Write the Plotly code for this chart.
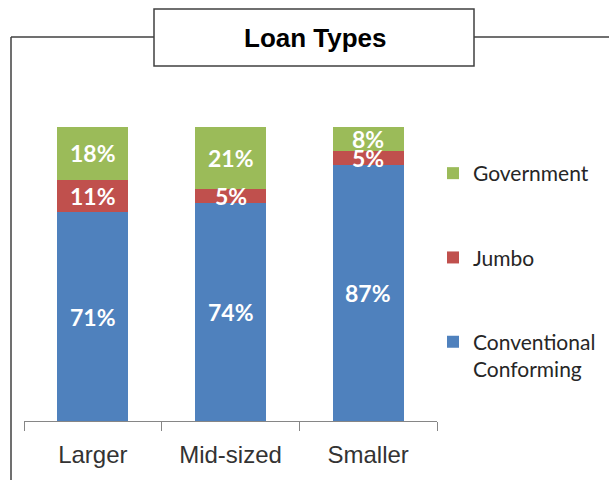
import plotly.graph_objects as go

# Share of loans by lender size (percent)
lender_sizes = ["Larger", "Mid-sized", "Smaller"]
conventional = [71, 74, 87]
jumbo = [11, 5, 5]
government = [18, 21, 8]

series_names = ["Conventional<br>Conforming", "Jumbo", "Government"]
series_colors = ["#4F81BD", "#C0504D", "#9BBB59"]
series_values = [conventional, jumbo, government]
legend_ranks = [3, 2, 1]

W, H = 609, 480
M_L, M_R, M_T, M_B = 24, 172, 127, 59
PW, PH = W - M_L - M_R, H - M_T - M_B


def px_x(px):
    return (px - M_L) / PW


def px_y(py):
    return (H - M_B - py) / PH


fig = go.Figure()
for i, (name, color, vals, rank) in enumerate(
        zip(series_names, series_colors, series_values, legend_ranks)):
    fig.add_trace(go.Bar(
        x=lender_sizes, y=vals, name=name,
        marker=dict(color=color, line=dict(width=0)),
        legendgroup=f"g{i}", legendrank=rank,
        hoverinfo="skip",
    ))

# Percent labels centred inside each stacked segment
annotations = []
for ci, cat in enumerate(lender_sizes):
    base = 0
    for vals in series_values:
        v = vals[ci]
        annotations.append(dict(
            x=cat, y=base + v / 2, xref="x", yref="y",
            text=f"{v}%", showarrow=False,
            font=dict(family="Lato", size=23, color="white", weight="bold"),
        ))
        base += v

# Chart title inside its frame box
annotations.append(dict(
    x=px_x(315), y=px_y(38), xref="paper", yref="paper",
    text="<b>Loan Types</b>", showarrow=False,
    xanchor="center", yanchor="middle",
    font=dict(family="Liberation Sans", size=26, color="black"),
))

frame = "#404040"
shapes = [
    dict(type="rect", xref="paper", yref="paper",
         x0=px_x(154), x1=px_x(474), y0=px_y(66), y1=px_y(9),
         line=dict(color=frame, width=1.5), fillcolor="white"),
    dict(type="line", xref="paper", yref="paper",
         x0=px_x(11), x1=px_x(154), y0=px_y(37), y1=px_y(37),
         line=dict(color=frame, width=1.5)),
    dict(type="line", xref="paper", yref="paper",
         x0=px_x(474), x1=px_x(612), y0=px_y(37), y1=px_y(37),
         line=dict(color=frame, width=1.5)),
    dict(type="line", xref="paper", yref="paper",
         x0=px_x(11), x1=px_x(11), y0=px_y(37), y1=px_y(482),
         line=dict(color=frame, width=1.5)),
]

fig.update_layout(
    width=W, height=H,
    margin=dict(l=M_L, r=M_R, t=M_T, b=M_B, pad=0, autoexpand=False),
    barmode="stack", bargap=0.485,
    paper_bgcolor="white", plot_bgcolor="white",
    showlegend=True,
    legend=dict(
        xref="container", yref="container",
        x=433 / W, y=1 - 153 / H, xanchor="left", yanchor="top",
        traceorder="grouped", tracegroupgap=54,
        valign="top", maxheight=400,
        font=dict(family="Lato", size=21, color="#262626"),
        bgcolor="rgba(0,0,0,0)",
    ),
    xaxis=dict(
        showline=True, linecolor="#868686", linewidth=1,
        ticks="outside", tickson="boundaries", ticklen=9,
        tickcolor="#868686", tickwidth=1, ticklabelstandoff=12,
        tickfont=dict(family="Liberation Sans", size=24, color="#333333"),
        showgrid=False, zeroline=False, fixedrange=True, automargin=False,
    ),
    yaxis=dict(
        range=[0, 100], visible=False, showgrid=False, fixedrange=True,
    ),
    annotations=annotations,
    shapes=shapes,
)

fig.write_html("out.html")
